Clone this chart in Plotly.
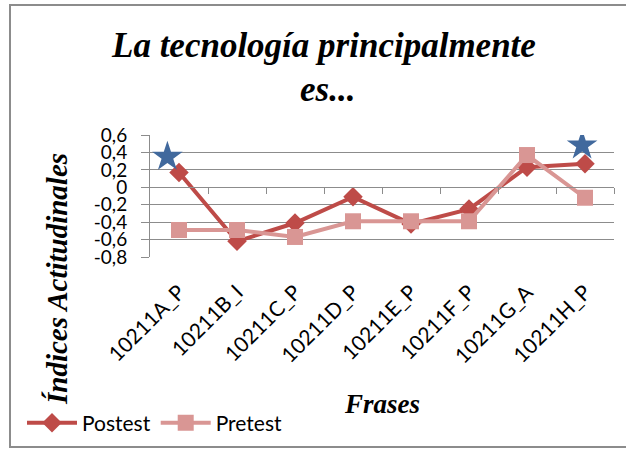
import plotly.graph_objects as go

categories = ["10211A_P", "10211B_I", "10211C_P", "10211D_P", "10211E_P", "10211F_P", "10211G_A", "10211H_P"]
postest = [0.17, -0.62, -0.41, -0.11, -0.42, -0.25, 0.23, 0.27]
pretest = [-0.49, -0.49, -0.57, -0.39, -0.39, -0.39, 0.37, -0.12]
star_x = [-0.2, 6.95]
star_y = [0.35, 0.48]
ytick_vals = [0.6, 0.4, 0.2, 0, -0.2, -0.4, -0.6, -0.8]
ytick_text = ["0,6", "0,4", "0,2", "0", "-0,2", "-0,4", "-0,6", "-0,8"]
title_lines = ["La tecnología principalmente", "es..."]

W, H = 626, 449
L, R, T, B = 150, 12, 135, 192
PW, PH = W - L - R, H - T - B
YMIN, YMAX = -0.8, 0.6

def px_x(p):
    return (p - L) / PW

def px_y(p):
    return (H - B - p) / PH

def cx(p):
    return p / W

def cy(p):
    return 1 - p / H

xpos = list(range(len(categories)))
boundaries = [i + 0.5 for i in range(len(categories))]

fig = go.Figure()
fig.add_trace(go.Scatter(
    x=xpos, y=postest, name="Postest", mode="lines+markers",
    line=dict(color="#BE4B48", width=4),
    marker=dict(symbol="diamond", size=15, color="#BE4B48"),
))
fig.add_trace(go.Scatter(
    x=xpos, y=pretest, name="Pretest", mode="lines+markers",
    line=dict(color="#D99694", width=4),
    marker=dict(symbol="square", size=16, color="#D99694"),
))
fig.add_trace(go.Scatter(
    x=star_x, y=star_y, mode="markers", showlegend=False,
    marker=dict(symbol="star", size=23, color="#41699D"),
))
# invisible trace for the zero-crossing category axis
fig.add_trace(go.Scatter(x=[boundaries[0]], y=[0], xaxis="x2", mode="markers",
                         marker=dict(opacity=0), showlegend=False, hoverinfo="skip"))

serif = dict(family="Liberation Serif", weight="bold", style="italic", color="black")

fig.update_layout(
    width=W, height=H,
    margin=dict(l=L, r=R, t=T, b=B, autoexpand=False),
    paper_bgcolor="white", plot_bgcolor="white",
    font=dict(family="Lato", size=18, color="black"),
    xaxis=dict(
        range=[-0.5, 7.5], tickvals=xpos, ticktext=categories, tickangle=-45,
        showgrid=False, zeroline=False, showline=False, ticks="",
        ticklabelstandoff=18, tickfont=dict(family="Lato", size=21), automargin=False,
    ),
    xaxis2=dict(
        range=[-0.5, 7.5], overlaying="x", anchor="free", position=(0 - YMIN) / (YMAX - YMIN),
        side="bottom", showline=True, linecolor="#8c8c8c", linewidth=1,
        tickvals=boundaries, ticks="outside", ticklen=6, tickcolor="#8c8c8c",
        showticklabels=False, showgrid=False, zeroline=False,
    ),
    yaxis=dict(
        range=[YMIN, YMAX], tickvals=ytick_vals, ticktext=ytick_text,
        showgrid=True, gridcolor="#8c8c8c", gridwidth=1, zeroline=False,
        showline=True, linecolor="#8c8c8c", ticks="outside", ticklen=8, tickcolor="#8c8c8c",
        tickfont=dict(family="Lato", size=19), ticklabelstandoff=10, automargin=False,
    ),
    legend=dict(
        orientation="h", xref="container", yref="container",
        x=cx(22), xanchor="left", y=cy(423), yanchor="middle",
        font=dict(family="Lato", size=21), itemwidth=50, bgcolor="rgba(0,0,0,0)",
    ),
    showlegend=True,
)

fig.add_annotation(
    text=title_lines[0], showarrow=False,
    xref="paper", yref="paper", x=px_x(323), y=px_y(45), xanchor="center", yanchor="middle",
    font=dict(size=35, **serif),
)
fig.add_annotation(
    text=title_lines[1], showarrow=False,
    xref="paper", yref="paper", x=px_x(327), y=px_y(89), xanchor="center", yanchor="middle",
    font=dict(size=35, **serif),
)
fig.add_annotation(
    text="Índices Actitudinales", textangle=-90, showarrow=False,
    xref="paper", yref="paper", x=px_x(57), y=px_y(279), xanchor="center", yanchor="middle",
    font=dict(size=29, **serif),
)
fig.add_annotation(
    text="Frases", showarrow=False,
    xref="paper", yref="paper", x=px_x(382), y=px_y(404), xanchor="center", yanchor="middle",
    font=dict(size=27, **serif),
)
fig.add_shape(
    type="rect", xref="paper", yref="paper",
    x0=px_x(10), x1=px_x(640), y0=px_y(447), y1=px_y(5),
    line=dict(color="#8c8c8c", width=2), fillcolor="rgba(0,0,0,0)", layer="below",
)

fig.write_html("out.html", config={"displayModeBar": False},
               post_script="document.body.style.margin='0';")
